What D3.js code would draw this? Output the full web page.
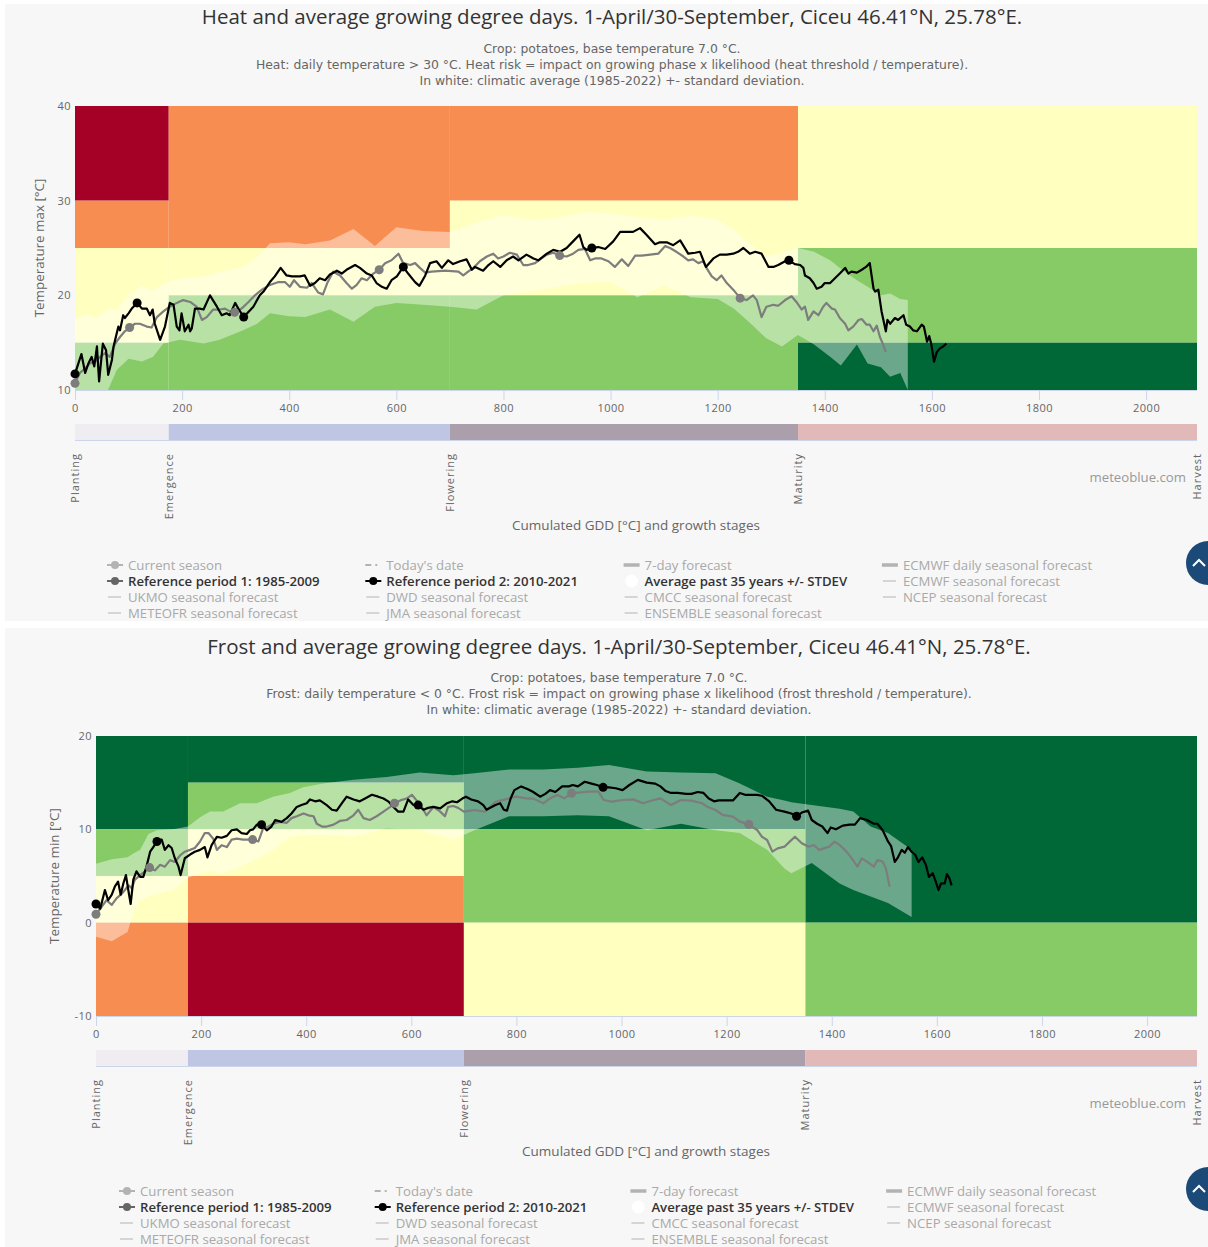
<!DOCTYPE html>
<html><head><meta charset="utf-8">
<script src="https://cdn.jsdelivr.net/npm/d3@7"></script>
<style>
body{margin:0;background:#fff;}
svg{display:block;font-family:"Open Sans",sans-serif;}
</style></head>
<body><svg id="c" width="1208" height="1247"></svg>
<script>
// ---------------- DATA ----------------
const gddTicks = [0,200,400,600,800,1000,1200,1400,1600,1800,2000];
const gddMax = 2095;
const stageNames = ["Planting","Emergence","Flowering","Maturity","Harvest"];
const stageGdd = [0,175,700,1350,2095];

// risk blocks per growth stage: [low, high, level]
const heatRisk = [
  [[30,40,"R"],[25,30,"O"],[15,25,"Y"],[10,15,"G"]],
  [[25,40,"O"],[20,25,"Y"],[10,20,"G"]],
  [[30,40,"O"],[20,30,"Y"],[10,20,"G"]],
  [[25,40,"Y"],[15,25,"G"],[10,15,"D"]]
];
const frostRisk = [
  [[10,20,"D"],[5,10,"G"],[0,5,"Y"],[-10,0,"O"]],
  [[15,20,"D"],[10,15,"G"],[5,10,"Y"],[0,5,"O"],[-10,0,"R"]],
  [[10,20,"D"],[0,10,"G"],[-10,0,"Y"]],
  [[0,20,"D"],[-10,0,"G"]]
];
const heatTicks = [10,20,30,40];
const frostTicks = [-10,0,10,20];

// climatic average +- stdev
const heatBandGdd = [0,20,40,60,78,100,125,146,165,196,240,270,314,340,364,400,430,476,520,560,600,650,700,750,800,850,900,950,1000,1050,1100,1150,1200,1230,1260,1290,1320,1350,1380,1410,1430,1460,1480,1505,1522,1541,1555];
const heatBandHi = [17.5,18.0,17.6,18.5,18.5,20.0,21.0,20.5,21.2,21.8,22.0,22.5,23.0,24.0,25.5,25.6,25.4,25.8,27.0,25.2,27.2,26.8,26.7,27.7,28.5,28.0,28.2,28.8,28.7,28.3,28.0,28.4,28.0,26.9,25.5,24.1,24.5,25.0,24.6,23.7,22.8,21.6,20.9,20.0,20.2,19.6,19.5];
const heatBandLo = [8.5,8.0,9.0,9.8,12.1,13.3,13.0,13.5,14.9,15.3,14.9,15.3,16.3,17.0,18.1,17.8,17.7,18.5,17.2,18.8,19.2,19.0,18.8,18.5,20.0,20.4,20.9,21.3,21.4,19.8,21.0,19.8,19.6,18.6,17.1,15.5,14.6,15.8,14.8,13.5,12.6,14.8,12.8,12.4,11.4,11.8,10.0];

const frostBandGdd = [0,30,60,71,84,100,116,147,175,198,217,242,274,306,337,369,394,432,490,553,616,680,720,786,851,917,976,1048,1113,1179,1225,1277,1310,1323,1362,1415,1441,1474,1507,1552];
const frostBandHi = [6.3,6.8,7.0,7.4,7.8,9.5,9.9,10.0,10.3,11.3,11.9,11.9,12.8,12.8,13.5,13.9,14.5,14.9,15.3,15.6,16.1,15.8,16.0,16.4,16.4,16.6,16.9,16.2,16.1,16.0,14.9,13.5,13.1,12.9,12.6,12.2,11.9,10.3,9.6,7.8];
const frostBandLo = [-1.5,-2.0,-1.0,1.0,2.4,2.8,3.1,3.5,4.8,5.3,5.6,5.3,6.0,6.8,7.8,9.2,9.3,9.4,9.2,10.1,9.9,8.9,9.9,11.4,11.4,11.5,11.4,9.9,10.6,9.9,9.6,7.8,5.8,5.3,6.4,4.2,3.5,2.8,2.1,0.6];

// month starts (cumulated GDD) used for markers
const ref2MonthGdd = [0,116,315,613,965,1333];
const ref1MonthGdd = [0,102,298,568,905,1242];

// Reference period 2: 2010-2021 [GDD, Tmax]
const ref2Heat = [[0,11.7],[12,13.8],[19,11.8],[25,12.8],[31,13.5],[36,12.5],[41,14.6],[45,10.9],[52,14.9],[58,14.2],[62,11.6],[69,13.2],[72,14.6],[81,16.7],[84,16.3],[90,17.9],[93,17.6],[100,18.1],[106,18.6],[116,19.2],[125,18.6],[134,18.6],[140,17.9],[145,18.5],[149,17.0],[159,15.3],[168,16.7],[177,19.2],[184,19.0],[190,16.7],[195,16.3],[199,18.1],[205,16.2],[212,16.9],[215,16.2],[218,16.5],[224,18.6],[233,18.6],[240,18.5],[252,20.0],[265,18.8],[274,17.9],[283,18.1],[289,17.9],[299,19.2],[305,18.6],[315,17.7],[333,18.8],[345,20.0],[352,20.4],[364,21.4],[373,22.0],[384,22.9],[395,22.1],[405,22.0],[420,22.0],[429,22.1],[439,21.0],[448,21.3],[457,21.8],[467,21.6],[476,22.2],[489,22.6],[498,22.3],[507,22.7],[523,23.2],[532,22.9],[545,22.3],[554,22.1],[563,21.3],[573,20.9],[582,20.7],[591,21.6],[601,22.0],[613,23.0],[622,22.3],[635,21.4],[643,21.0],[654,22.1],[663,23.4],[675,23.6],[685,22.9],[697,23.7],[706,23.3],[719,23.6],[731,23.8],[741,22.7],[747,23.0],[762,22.6],[772,23.2],[781,23.6],[794,23.0],[806,23.7],[818,24.1],[828,23.7],[843,24.3],[856,23.9],[865,23.7],[881,24.4],[893,24.8],[906,24.6],[918,25.0],[930,25.7],[942,26.4],[949,25.1],[955,24.8],[965,25.0],[977,25.1],[990,24.9],[1005,25.7],[1018,26.7],[1033,26.7],[1042,26.7],[1055,27.1],[1067,26.4],[1083,25.4],[1092,25.6],[1105,25.6],[1117,25.3],[1130,25.8],[1145,24.4],[1158,24.5],[1167,24.6],[1178,23.0],[1192,23.9],[1204,24.3],[1217,24.3],[1229,24.4],[1238,24.6],[1248,25.0],[1260,24.4],[1270,24.6],[1282,24.4],[1295,23.0],[1304,23.0],[1313,23.2],[1326,23.6],[1333,23.7],[1344,23.3],[1354,23.2],[1360,22.9],[1363,22.1],[1372,21.8],[1379,21.3],[1385,20.7],[1394,20.9],[1400,21.3],[1410,21.3],[1419,21.8],[1428,22.3],[1438,22.9],[1444,22.3],[1450,22.5],[1460,22.4],[1469,22.7],[1477,23.0],[1484,23.4],[1491,20.7],[1494,20.4],[1500,20.6],[1506,18.3],[1514,16.2],[1517,17.4],[1522,17.0],[1531,17.6],[1537,17.4],[1547,17.9],[1552,16.9],[1559,16.7],[1565,16.3],[1572,16.2],[1581,16.9],[1585,16.7],[1591,15.1],[1595,15.7],[1599,14.8],[1604,13.0],[1609,14.0],[1615,14.4],[1621,14.6],[1627,14.9]];

// Reference period 1: 1985-2009 [GDD, Tmax]
const ref1Heat = [[0,10.7],[9,11.8],[19,12.3],[28,12.8],[37,13.0],[47,13.5],[56,13.9],[65,13.5],[75,14.9],[84,15.6],[93,16.2],[102,16.6],[112,17.0],[121,17.0],[134,16.7],[143,16.6],[153,17.7],[165,18.3],[177,18.8],[190,19.2],[202,19.5],[215,19.3],[227,18.8],[237,17.4],[246,17.7],[258,18.5],[271,18.5],[280,18.6],[289,18.3],[298,18.2],[311,18.6],[324,19.3],[336,20.0],[349,20.6],[364,21.1],[380,21.4],[392,21.4],[401,20.9],[409,21.6],[420,20.9],[433,20.8],[442,21.3],[454,20.3],[463,20.1],[471,21.3],[482,22.5],[495,22.1],[507,21.3],[517,20.7],[526,21.1],[535,21.8],[545,21.6],[557,22.3],[568,22.7],[579,23.4],[591,23.7],[604,24.4],[613,23.4],[626,23.2],[635,23.4],[644,22.9],[654,22.4],[666,22.5],[691,22.6],[716,22.5],[725,22.1],[734,22.5],[744,22.9],[756,23.6],[769,24.1],[781,24.4],[790,23.9],[800,24.1],[812,24.5],[825,24.3],[837,23.2],[846,23.2],[859,23.4],[871,23.9],[881,24.3],[893,24.5],[905,24.2],[918,24.1],[930,24.4],[940,24.8],[952,24.9],[962,23.7],[971,23.9],[983,23.9],[996,23.6],[1008,23.0],[1021,23.8],[1033,23.1],[1046,24.2],[1058,24.2],[1074,24.3],[1089,24.4],[1102,25.2],[1111,25.0],[1123,24.6],[1136,24.1],[1145,23.7],[1154,23.8],[1164,23.4],[1173,23.6],[1179,22.9],[1189,22.0],[1198,21.6],[1207,22.1],[1217,21.3],[1229,20.6],[1242,19.7],[1254,19.5],[1266,20.0],[1273,19.5],[1282,17.7],[1291,18.8],[1304,19.0],[1313,18.9],[1326,19.5],[1338,19.9],[1347,19.3],[1357,18.5],[1363,18.8],[1369,17.4],[1379,18.3],[1388,17.9],[1397,18.8],[1403,19.2],[1413,18.6],[1419,18.5],[1428,17.6],[1438,17.0],[1444,16.3],[1453,16.7],[1463,17.4],[1469,17.5],[1478,16.9],[1484,16.9],[1491,16.2],[1497,16.8],[1503,15.6],[1509,14.8],[1514,14.0]];

// Reference period 2: 2010-2021 [GDD, Tmin]
const ref2Frost = [[0,2.0],[8,1.5],[17,3.5],[23,2.4],[30,3.0],[36,3.9],[42,4.4],[47,3.0],[52,4.2],[57,5.1],[62,3.3],[66,2.0],[71,4.6],[77,5.5],[84,4.9],[90,4.9],[96,6.0],[103,7.6],[109,8.1],[116,8.7],[125,8.9],[131,7.8],[138,8.3],[144,8.0],[150,6.9],[157,6.0],[161,5.1],[169,6.9],[179,7.3],[188,7.6],[198,7.8],[207,8.1],[212,7.0],[220,8.3],[230,9.2],[239,9.1],[249,9.3],[258,9.9],[268,10.0],[277,9.6],[287,9.5],[293,9.9],[299,10.0],[306,10.5],[315,10.5],[325,9.9],[334,10.3],[341,11.0],[353,10.8],[363,11.2],[372,11.7],[382,12.4],[391,12.6],[401,12.8],[407,13.2],[417,13.0],[426,13.1],[439,12.6],[449,12.1],[458,12.0],[468,12.8],[477,13.5],[490,13.2],[502,13.0],[512,13.3],[525,13.7],[537,13.5],[547,13.3],[556,13.0],[566,12.4],[575,11.9],[585,11.9],[594,13.2],[604,12.6],[613,12.6],[623,12.1],[632,12.3],[642,12.4],[655,12.25],[668,12.8],[678,13.0],[687,12.9],[697,13.3],[704,13.5],[714,13.2],[727,13.0],[737,12.6],[743,12.1],[760,12.6],[769,12.8],[776,12.1],[782,12.0],[789,13.3],[796,14.2],[809,14.6],[822,14.3],[832,14.0],[845,13.5],[855,13.8],[864,14.2],[874,14.0],[887,14.6],[900,14.6],[907,14.75],[917,14.6],[930,15.1],[943,14.9],[953,14.75],[965,14.5],[976,14.5],[989,14.4],[1002,14.2],[1015,14.75],[1031,15.3],[1048,15.0],[1064,14.9],[1074,14.6],[1084,14.1],[1094,13.9],[1107,13.9],[1123,13.8],[1133,13.8],[1145,14.0],[1156,13.9],[1166,13.3],[1176,13.0],[1185,13.1],[1199,13.1],[1212,13.1],[1225,13.9],[1235,13.7],[1248,13.7],[1258,13.7],[1267,13.6],[1281,13.0],[1294,12.1],[1310,11.9],[1323,11.7],[1333,11.4],[1343,11.8],[1355,12.0],[1362,11.0],[1372,10.6],[1382,10.3],[1392,9.6],[1398,10.2],[1408,10.0],[1421,10.4],[1434,10.5],[1444,10.5],[1454,11.2],[1467,11.0],[1480,10.6],[1487,10.6],[1497,9.9],[1507,8.7],[1513,8.2],[1520,6.5],[1526,7.0],[1533,7.8],[1539,7.5],[1545,8.1],[1552,7.6],[1559,7.25],[1565,6.5],[1572,7.0],[1579,6.2],[1585,4.9],[1592,5.3],[1598,4.4],[1603,3.5],[1608,4.2],[1615,4.2],[1619,5.2],[1624,4.75],[1628,4.0]];

// Reference period 1: 1985-2009 [GDD, Tmin]
const ref1Frost = [[0,0.9],[20,2.4],[30,1.9],[39,2.6],[49,3.1],[55,3.5],[62,4.0],[68,3.7],[74,4.6],[84,5.1],[93,5.5],[102,5.9],[112,5.6],[122,6.2],[131,6.0],[141,6.7],[150,6.5],[160,7.2],[169,7.6],[179,7.8],[188,8.0],[198,8.7],[207,9.6],[214,9.6],[223,9.0],[230,7.8],[239,8.3],[249,8.1],[258,8.9],[268,9.0],[280,8.9],[290,8.9],[298,8.9],[309,8.7],[318,10.1],[328,10.3],[337,10.6],[350,10.8],[363,10.7],[372,11.2],[382,11.4],[395,11.7],[404,11.5],[414,11.4],[420,10.6],[430,10.3],[439,10.3],[452,10.5],[464,10.9],[477,11.0],[490,11.5],[499,12.1],[509,11.2],[521,11.0],[534,11.4],[547,11.9],[560,12.4],[568,12.8],[579,13.1],[591,13.3],[601,13.7],[610,13.1],[620,12.4],[629,11.5],[642,12.4],[655,11.9],[664,11.4],[670,12.4],[680,12.5],[689,12.3],[700,11.9],[720,12.07],[740,11.9],[760,12.96],[779,13.21],[799,13.5],[819,13.32],[832,13.29],[851,12.79],[864,13.32],[878,13.68],[891,13.32],[905,13.86],[917,13.93],[936,14.04],[956,14.04],[966,13.14],[982,12.96],[1002,13.14],[1022,13.21],[1041,12.79],[1061,13.14],[1074,13.32],[1094,12.61],[1113,13.14],[1133,13.07],[1153,12.79],[1163,12.43],[1179,12.07],[1192,11.54],[1212,11.36],[1225,10.82],[1242,10.54],[1258,9.93],[1267,9.21],[1277,8.86],[1287,7.61],[1297,7.96],[1310,8.14],[1320,8.68],[1330,9.21],[1343,8.5],[1356,8.14],[1366,8.32],[1376,7.79],[1385,7.96],[1395,8.14],[1405,8.68],[1415,8.32],[1428,7.61],[1438,6.89],[1449,6.0],[1457,6.89],[1467,6.54],[1480,6.0],[1487,6.71],[1497,6.54],[1503,5.82],[1510,3.86]];

const legendNames = [
  "Current season","Today's date","7-day forecast","ECMWF daily seasonal forecast",
  "Reference period 1: 1985-2009","Reference period 2: 2010-2021","Average past 35 years +/- STDEV","ECMWF seasonal forecast",
  "UKMO seasonal forecast","DWD seasonal forecast","CMCC seasonal forecast","NCEP seasonal forecast",
  "METEOFR seasonal forecast","JMA seasonal forecast","ENSEMBLE seasonal forecast"
];
const legendKinds = ["marker","dash","thick","thick","ref1","ref2","area","thin","thin","thin","thin","thin","thin","thin","thin"];

// ---------------- STYLE ----------------
const riskColor = {R:"#a50026",O:"#f88d52",Y:"#ffffbf",G:"#86cb66",D:"#006837"};
const stageColor = ["#efedf1","#bfc6e3","#ab9fac","#e1b9b8"];
const textDark = "#333333", textMid = "#666666", hiddenCol = "#a9a9a9";

const svg = d3.select("#c");

function drawChart(cfg){
  const g = svg.append("g");
  g.append("rect").attr("x",5).attr("y",cfg.panelTop).attr("width",1203).attr("height",cfg.panelH).attr("fill","#f7f7f7");

  const x = d3.scaleLinear().domain([0,gddMax]).range([cfg.L,cfg.R]);
  const y = d3.scaleLinear().domain(cfg.yDom).range([cfg.B,cfg.T]);

  // titles
  g.append("text").attr("x",cfg.cx).attr("y",cfg.titleY).attr("text-anchor","middle")
    .attr("font-size",20.5).attr("fill",textDark).text(cfg.title);
  cfg.subs.forEach((s,i)=>{
    g.append("text").attr("x",cfg.cx).attr("y",cfg.subY+i*16).attr("text-anchor","middle")
      .attr("font-family","'DejaVu Sans',sans-serif").attr("font-size",12.4)
      .attr("fill",textMid).text(s);
  });

  const clipId = "clip"+cfg.id;
  svg.append("defs").append("clipPath").attr("id",clipId).append("rect")
    .attr("x",cfg.L).attr("y",cfg.T).attr("width",cfg.R-cfg.L).attr("height",cfg.B-cfg.T);

  // risk blocks
  const blocks = [];
  cfg.risk.forEach((list,si)=>list.forEach(b=>blocks.push({s0:stageGdd[si],s1:stageGdd[si+1],lo:b[0],hi:b[1],lv:b[2]})));
  g.append("g").selectAll("rect").data(blocks).join("rect")
    .attr("x",d=>x(d.s0)).attr("width",d=>x(d.s1)-x(d.s0))
    .attr("y",d=>y(d.hi)).attr("height",d=>y(d.lo)-y(d.hi))
    .attr("fill",d=>riskColor[d.lv]);

  const pg = g.append("g").attr("clip-path",`url(#${clipId})`);
  // climatic band
  const band = cfg.bandGdd.map((v,i)=>({g:v,hi:cfg.bandHi[i],lo:cfg.bandLo[i]}));
  pg.append("path").datum(band)
    .attr("d",d3.area().x(d=>x(d.g)).y0(d=>y(d.lo)).y1(d=>y(d.hi)))
    .attr("fill","#ffffff").attr("fill-opacity",0.42);

  const line = d3.line().x(d=>x(d[0])).y(d=>y(d[1]));
  pg.append("path").datum(cfg.ref1).attr("d",line).attr("fill","none")
    .attr("stroke","#7d7d7d").attr("stroke-width",2.2).attr("stroke-linejoin","round");
  pg.append("path").datum(cfg.ref2).attr("d",line).attr("fill","none")
    .attr("stroke","#000").attr("stroke-width",2.2).attr("stroke-linejoin","round");

  const m1 = ref1MonthGdd.map(v=>cfg.ref1.find(d=>d[0]===v)).filter(Boolean);
  const m2 = ref2MonthGdd.map(v=>cfg.ref2.find(d=>d[0]===v)).filter(Boolean);
  g.append("g").selectAll("circle").data(m1).join("circle")
    .attr("cx",d=>x(d[0])).attr("cy",d=>y(d[1])).attr("r",4.5).attr("fill","#7d7d7d");
  g.append("g").selectAll("circle").data(m2).join("circle")
    .attr("cx",d=>x(d[0])).attr("cy",d=>y(d[1])).attr("r",4.5).attr("fill","#000");

  // y axis labels
  g.append("g").selectAll("text").data(cfg.yTicks).join("text")
    .attr("x",cfg.L-4).attr("y",d=>y(d)+4).attr("text-anchor","end")
    .attr("font-size",11).attr("fill",textMid).attr("letter-spacing",0.5).text(d=>d);
  g.append("text").attr("transform",`translate(${cfg.yLabX},${(cfg.T+cfg.B)/2}) rotate(-90)`)
    .attr("text-anchor","middle").attr("font-size",13.4).attr("fill",textMid).text(cfg.yLabel);

  // x axis
  const xa = g.append("g").attr("transform",`translate(0,${cfg.B})`)
    .call(d3.axisBottom(x).tickValues(gddTicks).tickSize(10).tickPadding(5).tickFormat(d3.format("d")));
  xa.select(".domain").attr("stroke","#ccd6eb").attr("d",`M${cfg.L},0.5H${cfg.R}`);
  xa.selectAll(".tick line").attr("stroke","#ccd6eb");
  xa.selectAll(".tick text").attr("fill",textMid).attr("font-size",11).attr("font-family","Open Sans").attr("letter-spacing",0.5).attr("dy","0.6em");

  // growth stage bar
  const sb = cfg.B + 34;
  const stages = stageGdd.slice(0,-1).map((v,i)=>({a:v,b:stageGdd[i+1],c:stageColor[i]}));
  g.append("g").selectAll("rect").data(stages).join("rect")
    .attr("x",d=>x(d.a)).attr("width",d=>x(d.b)-x(d.a)).attr("y",sb).attr("height",16).attr("fill",d=>d.c);
  g.append("line").attr("x1",cfg.L).attr("x2",cfg.R).attr("y1",sb+16.5).attr("y2",sb+16.5).attr("stroke","#ccd6eb");
  g.append("g").selectAll("text").data(stageNames).join("text")
    .attr("transform",(d,i)=>`translate(${x(stageGdd[i])},${cfg.B+63}) rotate(-90)`)
    .attr("text-anchor","end").attr("dy","0.35em").attr("font-size",11).attr("letter-spacing",1)
    .attr("fill",textMid).text(d=>d);

  g.append("text").attr("x",1186).attr("y",cfg.B+92).attr("text-anchor","end")
    .attr("font-size",13.2).attr("fill","#999").text("meteoblue.com");
  g.append("text").attr("x",cfg.axCx).attr("y",cfg.B+140).attr("text-anchor","middle")
    .attr("font-size",13.5).attr("fill",textMid).text("Cumulated GDD [°C] and growth stages");

  // legend
  const ly0 = cfg.B + 175;
  legendNames.forEach((name,i)=>{
    const col = i%4, row = Math.floor(i/4);
    const sx = cfg.legX + col*cfg.legW, yy = ly0 + row*16;
    const item = g.append("g");
    const active = ["ref1","ref2","area"].includes(legendKinds[i]);
    const k = legendKinds[i];
    const sc = "#b3b3b3";
    if(k==="marker"||k==="ref1"||k==="ref2"){
      const c = k==="ref2"?"#000":(k==="ref1"?"#666":sc);
      item.append("line").attr("x1",sx).attr("x2",sx+16).attr("y1",yy).attr("y2",yy).attr("stroke",c).attr("stroke-width",2);
      item.append("circle").attr("cx",sx+8).attr("cy",yy).attr("r",4).attr("fill",c);
    } else if(k==="dash"){
      item.append("line").attr("x1",sx).attr("x2",sx+16).attr("y1",yy).attr("y2",yy).attr("stroke",sc).attr("stroke-width",2).attr("stroke-dasharray","6,4,2,4");
    } else if(k==="thick"){
      item.append("line").attr("x1",sx).attr("x2",sx+16).attr("y1",yy).attr("y2",yy).attr("stroke",sc).attr("stroke-width",3.5);
    } else if(k==="thin"){
      item.append("line").attr("x1",sx+1).attr("x2",sx+14).attr("y1",yy).attr("y2",yy).attr("stroke",sc).attr("stroke-width",1);
    } else if(k==="area"){
      item.append("circle").attr("cx",sx+8).attr("cy",yy).attr("r",6.5).attr("fill","#fff");
    }
    item.append("text").attr("x",sx+21).attr("y",yy+4.5).attr("font-size",13.2)
      .attr("font-weight",active?600:500).attr("fill",active?textDark:hiddenCol).text(name);
  });

  // scroll-to-top button
  const by = ly0 - 2;
  g.append("circle").attr("cx",1208).attr("cy",by).attr("r",22).attr("fill","#1b4a78");
  g.append("path").attr("d",`M${1193},${by+3} L${1199},${by-3} L${1205},${by+3}`)
    .attr("fill","none").attr("stroke","#fff").attr("stroke-width",2);
}

drawChart({
  id:"heat", panelTop:4, panelH:617, L:75, R:1197, T:106, B:390, yDom:[10,40], yTicks:heatTicks,
  cx:612, titleY:24, subY:53, axCx:636,
  title:"Heat and average growing degree days. 1-April/30-September, Ciceu 46.41°N, 25.78°E.",
  subs:["Crop: potatoes, base temperature 7.0 °C.",
        "Heat: daily temperature > 30 °C. Heat risk = impact on growing phase x likelihood (heat threshold / temperature).",
        "In white: climatic average (1985-2022) +- standard deviation."],
  yLabel:"Temperature max [°C]", yLabX:44,
  risk:heatRisk, bandGdd:heatBandGdd, bandHi:heatBandHi, bandLo:heatBandLo,
  ref1:ref1Heat, ref2:ref2Heat, legX:107, legW:258.3
});
drawChart({
  id:"frost", panelTop:628, panelH:619, L:96, R:1197, T:736, B:1016, yDom:[-10,20], yTicks:frostTicks,
  cx:619, titleY:654, subY:682, axCx:646,
  title:"Frost and average growing degree days. 1-April/30-September, Ciceu 46.41°N, 25.78°E.",
  subs:["Crop: potatoes, base temperature 7.0 °C.",
        "Frost: daily temperature < 0 °C. Frost risk = impact on growing phase x likelihood (frost threshold / temperature).",
        "In white: climatic average (1985-2022) +- standard deviation."],
  yLabel:"Temperature min [°C]", yLabX:59,
  risk:frostRisk, bandGdd:frostBandGdd, bandHi:frostBandHi, bandLo:frostBandLo,
  ref1:ref1Frost, ref2:ref2Frost, legX:119, legW:255.7
});
</script>
</body></html>
